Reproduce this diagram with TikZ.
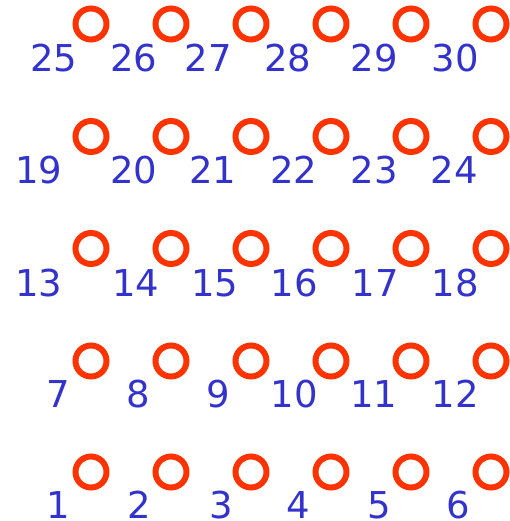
\documentclass[tikz,border=0pt]{standalone}
\usepackage{fontspec}
\setmainfont{DejaVu Sans}
\definecolor{ringred}{HTML}{FF3300}
\definecolor{numblue}{HTML}{3333CC}
\begin{document}
\begin{tikzpicture}[
    x=1pt, y=-1pt,
    ring/.style={circle, draw=ringred, line width=6pt,
        minimum size=31pt, inner sep=0pt},
    number/.style={anchor=base, text=numblue, inner sep=0pt, text depth=0pt,
        font=\fontsize{37}{44}\selectfont},
]
\useasboundingbox (0,0) rectangle (509,521);
% rings, rows from bottom (1..6) to top (25..30)
\foreach \r/\y in {0/472, 1/361, 2/248.5, 3/136.5, 4/24} {
    \foreach \c in {1,...,6} {
        \pgfmathtruncatemacro{\k}{6*\r+\c}
        \node[ring] (ring\k) at ({91+80*(\c-1)}, \y) {};
    }
}
% numbers under the rings
\foreach \k/\x/\y in {
    1/58.5/518, 2/139/518, 3/221/518, 4/298/518, 5/379/518, 6/458.5/518,
    7/58.5/407, 8/138/407, 9/218.5/407, 10/294.5/407, 11/374/407, 12/455/407,
    13/39/296, 14/136/296, 15/215/296, 16/294.5/296, 17/375.5/296, 18/455/296,
    19/39/184, 20/134/184, 21/213/184, 22/294/184, 23/374.5/184, 24/454.5/184,
    25/54/72, 26/134/72, 27/208.5/72, 28/288/72, 29/374.5/72, 30/455/72} {
    \node[number] (num\k) at (\x, \y) {\k};
}
\end{tikzpicture}
\end{document}
